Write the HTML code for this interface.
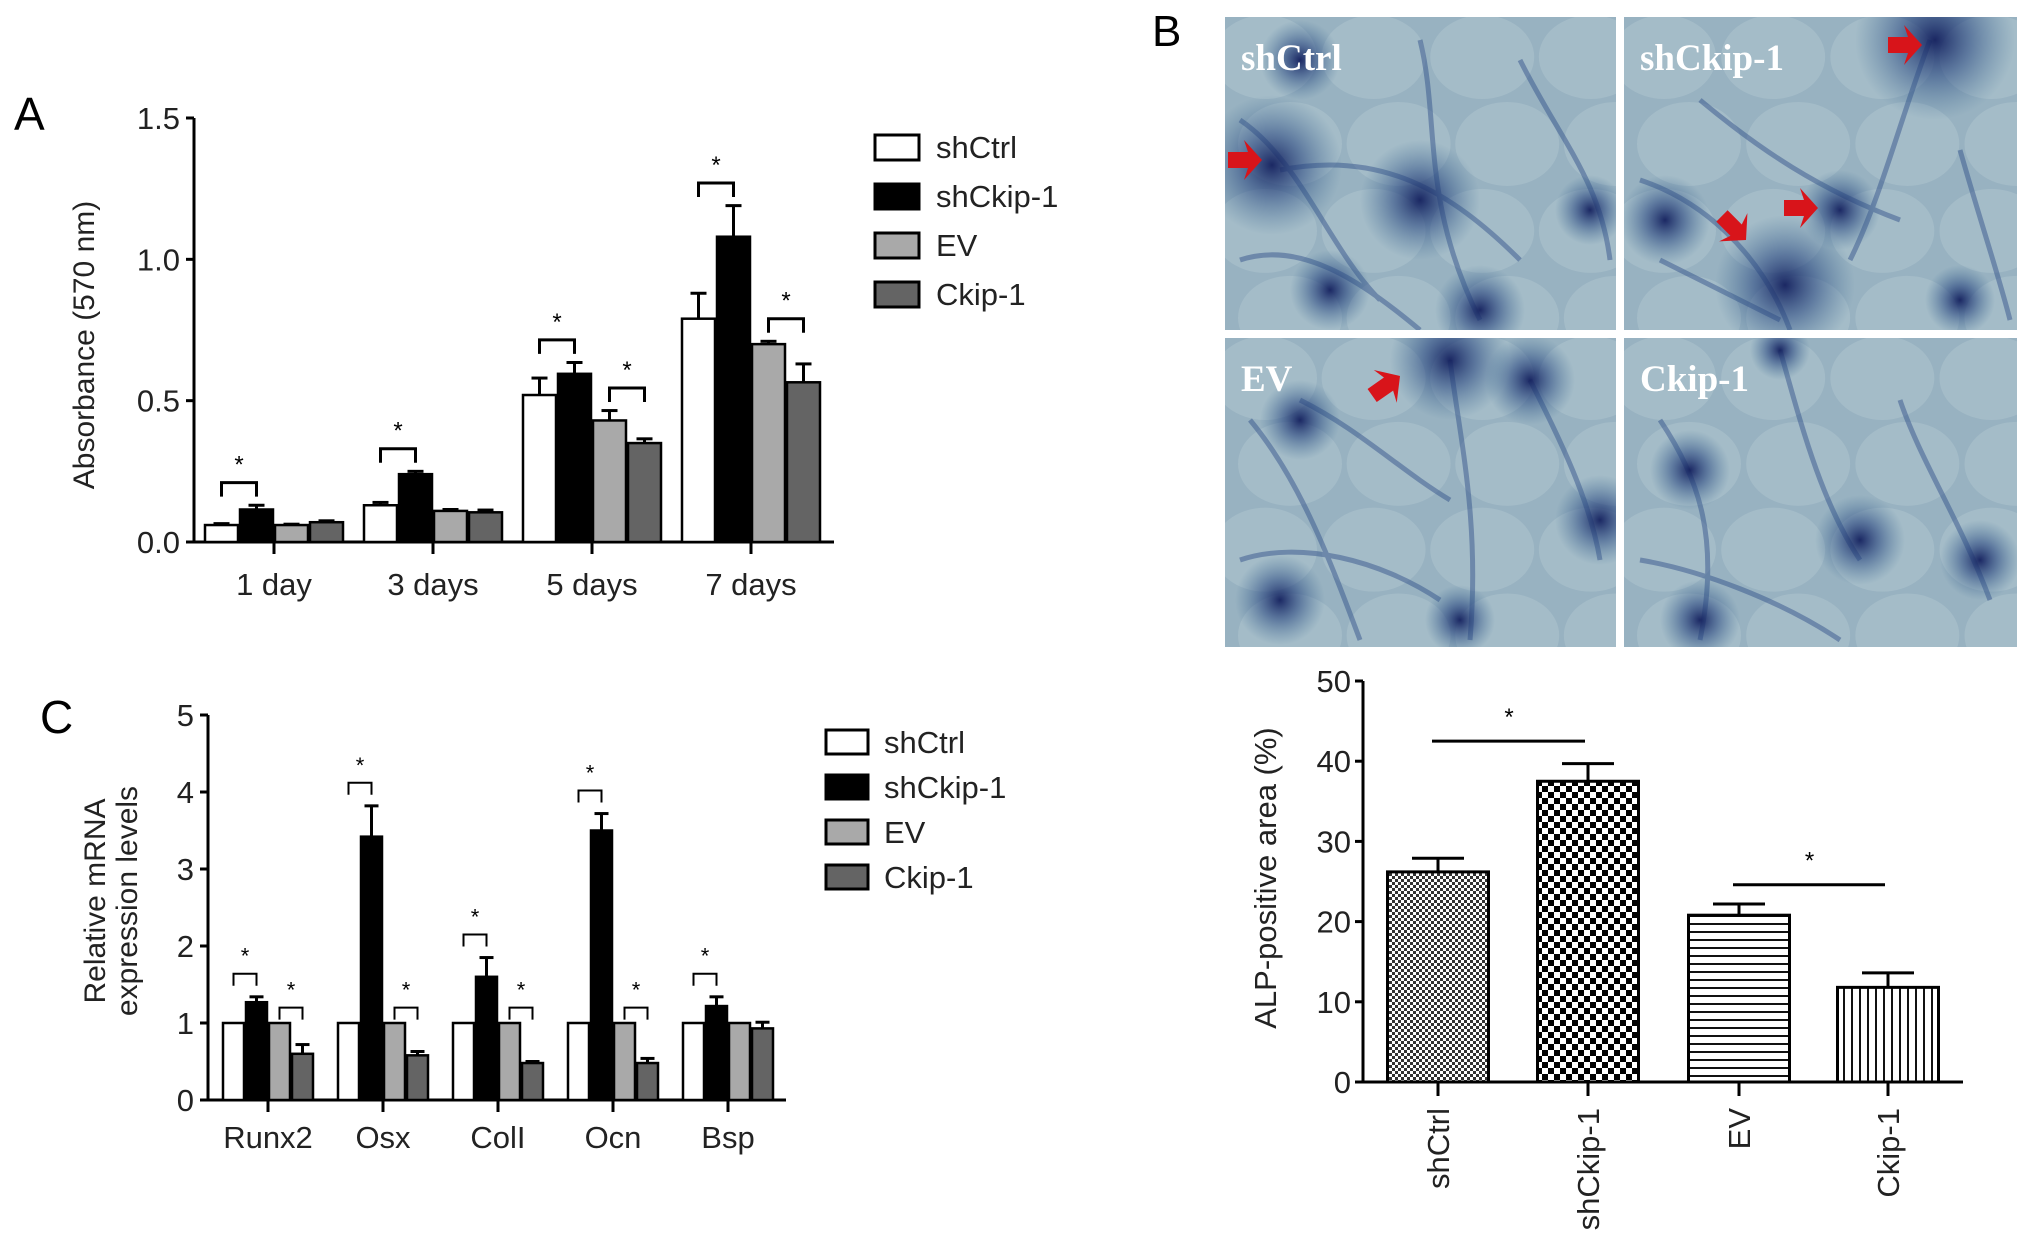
<!DOCTYPE html>
<html><head><meta charset="utf-8"><style>
html,body{margin:0;padding:0;background:#fff;}
svg{display:block;font-family:"Liberation Sans",Arial,sans-serif;}
.pl{font-family:"Liberation Serif",serif;font-weight:bold;fill:#fff;font-size:37px;}
</style></head><body>
<svg id="fig" width="2031" height="1253" viewBox="0 0 2031 1253" xmlns="http://www.w3.org/2000/svg">
<defs>
<pattern id="pFine" width="6" height="6" patternUnits="userSpaceOnUse"><rect width="6" height="6" fill="#fff"/><rect width="3" height="3" fill="#333"/><rect x="3" y="3" width="3" height="3" fill="#333"/></pattern>
<pattern id="pCoarse" width="12" height="12" patternUnits="userSpaceOnUse"><rect width="12" height="12" fill="#fff"/><rect width="6" height="6" fill="#000"/><rect x="6" y="6" width="6" height="6" fill="#000"/></pattern>
<pattern id="pHor" width="8" height="8" patternUnits="userSpaceOnUse"><rect width="8" height="8" fill="#fff"/><rect y="3" width="8" height="2" fill="#111"/></pattern>
<pattern id="pVer" width="8" height="8" patternUnits="userSpaceOnUse"><rect width="8" height="8" fill="#fff"/><rect x="3" width="2" height="8" fill="#111"/></pattern>
<radialGradient id="blob"><stop offset="0" stop-color="#14205e" stop-opacity="0.95"/><stop offset="0.45" stop-color="#27457f" stop-opacity="0.55"/><stop offset="1" stop-color="#3c6a93" stop-opacity="0"/></radialGradient>
</defs>
<g id="panelA"></g>
<g id="panelC"></g>
<g id="panelBimg"></g>
<g id="panelB"></g>
</svg>
<script>
// ---- Panel A data ----
const aCategories = ["1 day","3 days","5 days","7 days"];
const aShCtrl = [0.06,0.13,0.52,0.79];
const aShCkip = [0.115,0.24,0.595,1.08];
const aEV = [0.06,0.11,0.43,0.70];
const aCkip = [0.07,0.105,0.35,0.565];
const aErrShCtrl = [0.005,0.01,0.06,0.09];
const aErrShCkip = [0.015,0.01,0.04,0.11];
const aErrEV = [0.003,0.005,0.035,0.01];
const aErrCkip = [0.005,0.008,0.015,0.065];
const aTicks = ["0.0","0.5","1.0","1.5"];
const aTickVals = [0,0.5,1.0,1.5];
// ---- Panel C data ----
const cCategories = ["Runx2","Osx","ColI","Ocn","Bsp"];
const cShCtrl = [1,1,1,1,1];
const cShCkip = [1.27,3.42,1.6,3.5,1.22];
const cEV = [1,1,1,1,1];
const cCkip = [0.6,0.58,0.48,0.48,0.93];
const cErrShCkip = [0.07,0.4,0.25,0.22,0.12];
const cErrCkip = [0.12,0.05,0.02,0.06,0.08];
const cTickVals = [0,1,2,3,4,5];
// ---- Panel B data ----
const bCategories = ["shCtrl","shCkip-1","EV","Ckip-1"];
const bValues = [26.2,37.5,20.8,11.8];
const bErr = [1.7,2.2,1.4,1.8];
const bTickVals = [0,10,20,30,40,50];

const NS="http://www.w3.org/2000/svg";
function mk(parent,tag,attrs,text){const e=document.createElementNS(NS,tag);for(const k in attrs)e.setAttribute(k,attrs[k]);if(text!==undefined)e.textContent=text;parent.appendChild(e);return e;}

const fills=["#fff","#000","#a9a9a9","#646464"];
const names=["shCtrl","shCkip-1","EV","Ckip-1"];

// ===== Panel A =====
(function(){
 const g=document.getElementById('panelA');
 const x0=194,yBase=542,yTop=118,vMax=1.5,xEnd=834;
 const y=v=>yBase-(v/vMax)*(yBase-yTop);
 const groupStart=i=>204+i*159;
 const bw=35;
 let t=mk(g,'text',{x:14,y:130,'font-size':46},'A');
 
 let l=mk(g,'line',{x1:x0,y1:yTop,x2:x0,y2:yBase,stroke:'#000','stroke-width':3});
 
 l=mk(g,'line',{x1:x0-8,y1:yBase,x2:xEnd,y2:yBase,stroke:'#000','stroke-width':3});
 
 aTickVals.forEach((v,i)=>{
  mk(g,'line',{x1:x0-8,y1:y(v),x2:x0,y2:y(v),stroke:'#000','stroke-width':3});
  const tt=mk(g,'text',{x:x0-14,y:y(v)+11,'font-size':31,'text-anchor':'end',fill:'#222'},aTicks[i]);
  
 });
 const ser=[aShCtrl,aShCkip,aEV,aCkip],err=[aErrShCtrl,aErrShCkip,aErrEV,aErrCkip];
 aCategories.forEach((c,i)=>{
  const gs=groupStart(i);
  const tx=gs+2*bw;
  mk(g,'line',{x1:tx,y1:yBase,x2:tx,y2:yBase+12,stroke:'#000','stroke-width':3});
  const ct=mk(g,'text',{x:tx,y:595,'font-size':31,'text-anchor':'middle',fill:'#222'},c);
  
  ser.forEach((s,k)=>{
   const bx=gs+k*bw, top=y(s[i]);
   const e=err[k][i];
   mk(g,'line',{x1:bx+bw/2,y1:top,x2:bx+bw/2,y2:y(s[i]+e),stroke:'#000','stroke-width':3});
   mk(g,'line',{x1:bx+bw/2-8,y1:y(s[i]+e),x2:bx+bw/2+8,y2:y(s[i]+e),stroke:'#000','stroke-width':3});
   const r=mk(g,'rect',{x:bx+1,y:top,width:bw-2,height:yBase-top,fill:fills[k],stroke:'#000','stroke-width':2.5});
   
   
  });
 });
 function bracket(xa,xb,v){const yy=y(v);
  mk(g,'path',{d:`M${xa},${yy+14} V${yy} H${xb} V${yy+14}`,fill:'none',stroke:'#000','stroke-width':3});
  mk(g,'text',{x:(xa+xb)/2,y:yy-10,'font-size':24,'text-anchor':'middle'},'*');}
 aCategories.forEach((c,i)=>{const gs=groupStart(i);
  const m=Math.max(aShCtrl[i]+aErrShCtrl[i],aShCkip[i]+aErrShCkip[i]);
  bracket(gs+bw/2,gs+1.5*bw,m+0.08);
 });
 [2,3].forEach(i=>{const gs=groupStart(i);
  const m=Math.max(aEV[i]+aErrEV[i],aCkip[i]+aErrCkip[i]);
  bracket(gs+2.5*bw,gs+3.5*bw,m+0.08);});
 const yt=mk(g,'text',{x:0,y:0,'font-size':30,'text-anchor':'middle',fill:'#222',transform:'translate(94,345) rotate(-90)'},'Absorbance (570 nm)');
 
 names.forEach((n,k)=>{const yy=147+k*49;
  const le=mk(g,'g',{});
  mk(le,'rect',{x:875,y:yy-12,width:44,height:25,fill:fills[k],stroke:'#000','stroke-width':3});
  mk(le,'text',{x:936,y:yy+11,'font-size':31,fill:'#222'},n);});
})();

// ===== Panel C =====
(function(){
 const g=document.getElementById('panelC');
 const x0=208,yBase=1100,yTop=715,vMax=5,xEnd=786;
 const y=v=>yBase-(v/vMax)*(yBase-yTop);
 const bw=23;const groupStart=i=>222+i*115;
 let t=mk(g,'text',{x:40,y:733,'font-size':46},'C');
 
 let l=mk(g,'line',{x1:x0,y1:yTop,x2:x0,y2:yBase,stroke:'#000','stroke-width':3});
 
 l=mk(g,'line',{x1:x0-8,y1:yBase,x2:xEnd,y2:yBase,stroke:'#000','stroke-width':3});
 
 cTickVals.forEach(v=>{mk(g,'line',{x1:x0-8,y1:y(v),x2:x0,y2:y(v),stroke:'#000','stroke-width':3});
  const tt=mk(g,'text',{x:x0-14,y:y(v)+11,'font-size':31,'text-anchor':'end',fill:'#222'},String(v));
  });
 const ser=[cShCtrl,cShCkip,cEV,cCkip];const err=[null,cErrShCkip,null,cErrCkip];
 cCategories.forEach((c,i)=>{const gs=groupStart(i);const tx=gs+2*bw;
  mk(g,'line',{x1:tx,y1:yBase,x2:tx,y2:yBase+12,stroke:'#000','stroke-width':3});
  const ct=mk(g,'text',{x:tx,y:1148,'font-size':31,'text-anchor':'middle',fill:'#222'},c);
  
  ser.forEach((s,k)=>{const bx=gs+k*bw,top=y(s[i]);
   if(err[k]){const e=err[k][i];
    mk(g,'line',{x1:bx+bw/2,y1:top,x2:bx+bw/2,y2:y(s[i]+e),stroke:'#000','stroke-width':3});
    mk(g,'line',{x1:bx+bw/2-7,y1:y(s[i]+e),x2:bx+bw/2+7,y2:y(s[i]+e),stroke:'#000','stroke-width':3});}
   const r=mk(g,'rect',{x:bx+1,y:top,width:bw-2,height:yBase-top,fill:fills[k],stroke:'#000','stroke-width':2.5});
   
   });
 });
 function bracket(xa,xb,v){const yy=y(v);
  mk(g,'path',{d:`M${xa},${yy+12} V${yy} H${xb} V${yy+12}`,fill:'none',stroke:'#000','stroke-width':2});
  mk(g,'text',{x:(xa+xb)/2,y:yy-10,'font-size':22,'text-anchor':'middle'},'*');}
 cCategories.forEach((c,i)=>{const gs=groupStart(i);
  bracket(gs+bw/2,gs+1.5*bw,cShCkip[i]+cErrShCkip[i]+0.3);
  if(i<4)bracket(gs+2.5*bw,gs+3.5*bw,1.2);});
 const yt=mk(g,'text',{x:0,y:0,'font-size':30,'text-anchor':'middle',fill:'#222',transform:'translate(105,901) rotate(-90)'});
 
 mk(yt,'tspan',{x:0,dy:0},'Relative mRNA');mk(yt,'tspan',{x:0,dy:32},'expression levels');
 names.forEach((n,k)=>{const yy=742+k*45;
  const le=mk(g,'g',{});
  mk(le,'rect',{x:826,y:yy-12,width:42,height:24,fill:fills[k],stroke:'#000','stroke-width':3});
  mk(le,'text',{x:884,y:yy+11,'font-size':31,fill:'#222'},n);});
})();

// ===== Panel B micrographs =====
(function(){
 const g=document.getElementById('panelBimg');
 let t=mk(g,'text',{x:1152,y:46,'font-size':44},'B');
 
 const panels=[
  {x:1225,y:17,w:391,h:313,label:'shCtrl',blobs:[[1272,165,70],[1330,290,40],[1480,310,45],[1590,210,35],[1420,200,60],[1300,60,40]],arrows:[[1262,160,0]],
   net:"M1240,120 C1300,160 1330,250 1380,300 M1280,170 C1380,150 1450,190 1520,260 M1420,40 C1440,120 1420,200 1480,320 M1520,60 C1560,140 1600,180 1610,260 M1240,260 C1300,240 1360,280 1420,330"},
  {x:1624,y:17,w:393,h:313,label:'shCkip-1',blobs:[[1935,40,80],[1785,285,70],[1840,210,40],[1665,220,45],[1960,300,35]],arrows:[[1922,45,0],[1818,208,0],[1746,240,45]],
   net:"M1640,180 C1700,200 1760,250 1790,330 M1700,100 C1760,150 1820,190 1900,220 M1930,40 C1900,120 1880,200 1850,260 M1660,260 C1700,280 1740,300 1780,320 M1960,150 C1980,220 2000,280 2010,320"},
  {x:1225,y:338,w:391,h:309,label:'EV',blobs:[[1450,360,60],[1530,380,45],[1300,420,40],[1600,520,45],[1280,600,45],[1460,620,35]],arrows:[[1400,376,-35]],
   net:"M1250,420 C1300,480 1330,560 1360,640 M1450,360 C1460,440 1480,520 1470,640 M1530,380 C1560,440 1590,500 1600,560 M1240,560 C1300,540 1380,560 1440,600 M1300,400 C1360,430 1400,470 1450,500"},
  {x:1624,y:338,w:393,h:309,label:'Ckip-1',blobs:[[1690,470,40],[1860,540,45],[1700,620,40],[1980,560,40],[1780,350,30]],arrows:[],
   net:"M1660,420 C1700,480 1720,540 1700,640 M1780,350 C1800,420 1820,500 1860,560 M1900,400 C1920,460 1960,520 1990,600 M1640,560 C1700,570 1780,600 1840,640"}
 ];
 panels.forEach(p=>{
  const pg=mk(g,'g',{});
  mk(pg,'rect',{x:p.x,y:p.y,width:p.w,height:p.h,fill:'#98b2c1'});
  const cid='clip'+p.label.replace('-','');
  const cp=mk(pg,'clipPath',{id:cid});mk(cp,'rect',{x:p.x,y:p.y,width:p.w,height:p.h});
  const inner=mk(pg,'g',{'clip-path':`url(#${cid})`});
  for(let i=0;i<4;i++)for(let j=0;j<4;j++){
   mk(inner,'ellipse',{cx:p.x+40+i*p.w/3.6+(j%2)*25,cy:p.y+40+j*p.h/3.6,rx:52,ry:42,fill:'#b0c5cf',opacity:0.5});}
  mk(inner,'path',{d:p.net,fill:'none',stroke:'#2a4a86','stroke-width':5,opacity:0.45});
  p.blobs.forEach(b=>mk(inner,'circle',{cx:b[0],cy:b[1],r:b[2],fill:'url(#blob)'}));
  mk(inner,'text',{x:p.x+16,y:p.y+53,class:'pl'},p.label);
  p.arrows.forEach(a=>{
   mk(inner,'path',{d:'M-34,-8 L-14,-8 L-18,-20 L0,0 L-18,20 L-14,8 L-34,8 Z',fill:'#d8141a',transform:`translate(${a[0]},${a[1]}) rotate(${a[2]})`});});
 });
})();

// ===== Panel B chart =====
(function(){
 const g=document.getElementById('panelB');
 const x0=1363,yBase=1082,yTop=681,vMax=50,xEnd=1963;
 const y=v=>yBase-(v/vMax)*(yBase-yTop);
 const centers=[1438,1588,1739,1888];const bw=101;
 const pats=['url(#pFine)','url(#pCoarse)','url(#pHor)','url(#pVer)'];
 let l=mk(g,'line',{x1:x0,y1:yTop,x2:x0,y2:yBase,stroke:'#000','stroke-width':3});
 
 l=mk(g,'line',{x1:x0-8,y1:yBase,x2:xEnd,y2:yBase,stroke:'#000','stroke-width':3});
 
 bTickVals.forEach(v=>{mk(g,'line',{x1:x0-8,y1:y(v),x2:x0,y2:y(v),stroke:'#000','stroke-width':3});
  const tt=mk(g,'text',{x:x0-12,y:y(v)+11,'font-size':31,'text-anchor':'end',fill:'#222'},String(v));
  });
 bCategories.forEach((c,i)=>{const cx=centers[i],top=y(bValues[i]),et=y(bValues[i]+bErr[i]);
  mk(g,'line',{x1:cx,y1:top,x2:cx,y2:et,stroke:'#000','stroke-width':3});
  mk(g,'line',{x1:cx-26,y1:et,x2:cx+26,y2:et,stroke:'#000','stroke-width':3});
  const r=mk(g,'rect',{x:cx-bw/2,y:top,width:bw,height:yBase-top,fill:pats[i],stroke:'#000','stroke-width':3});
  
  mk(g,'line',{x1:cx,y1:yBase,x2:cx,y2:yBase+14,stroke:'#000','stroke-width':3});
  const ct=mk(g,'text',{x:0,y:0,'font-size':31,'text-anchor':'end',fill:'#222',transform:`translate(${cx+11},1108) rotate(-90)`},c);
  });
 function sig(i,j,v){const yy=y(v);
  mk(g,'line',{x1:centers[i]-6,y1:yy,x2:centers[j]-3,y2:yy,stroke:'#000','stroke-width':3});
  mk(g,'text',{x:(centers[i]+centers[j])/2-4,y:yy-16,'font-size':24,'text-anchor':'middle'},'*');}
 sig(0,1,bValues[1]+bErr[1]+2.8);
 sig(2,3,bValues[2]+bErr[2]+2.4);
 const yt=mk(g,'text',{x:0,y:0,'font-size':31,'text-anchor':'middle',fill:'#222',transform:'translate(1276,878) rotate(-90)'},'ALP-positive area (%)');
 
})();
</script>
</body></html>
